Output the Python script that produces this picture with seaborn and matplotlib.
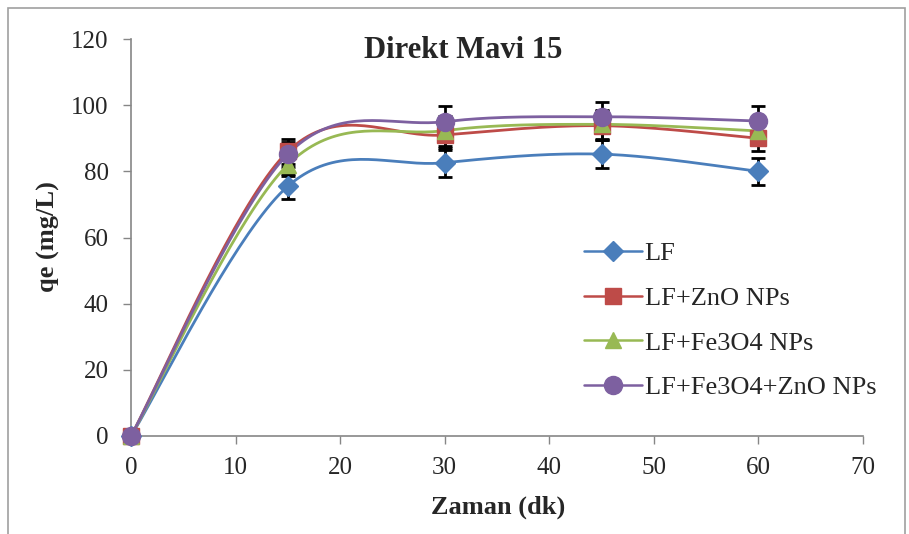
import numpy as np
import pandas as pd
import matplotlib
matplotlib.use("Agg")
import matplotlib.pyplot as plt
import seaborn as sns
from matplotlib.patches import Rectangle
from matplotlib.lines import Line2D

time_min = [0, 15, 30, 45, 60]
series_names = ["LF", "LF+ZnO NPs", "LF+Fe3O4 NPs", "LF+Fe3O4+ZnO NPs"]
qe_lf = [0, 75.5, 82.6, 85.2, 80.0]
qe_zno = [0, 86.0, 91.0, 93.8, 90.0]
qe_fe3o4 = [0, 82.0, 92.3, 94.2, 92.2]
qe_fe3o4_zno = [0, 85.2, 95.0, 96.5, 95.2]
err_lf = [0, 3.8, 4.4, 4.2, 4.0]
err_zno = [0, 3.8, 4.5, 4.3, 4.0]
err_fe3o4 = [0, 3.5, 4.5, 4.3, 4.0]
err_fe3o4_zno = [0, 3.8, 4.8, 4.6, 4.5]

colors = ["#4A7EBB", "#BE4B48", "#98B954", "#7D60A0"]
markers = ["D", "s", "^", "o"]
msizes = [10, 11, 11, 13]

sns.set_style("white")
plt.rcParams['font.family'] = ['Liberation Serif', 'DejaVu Serif']


def smooth(x, y, n=40):
    # Bezier smoothing through the points (like Excel smoothed lines)
    x = np.asarray(x, float)
    y = np.asarray(y, float)
    pts = np.column_stack([x, y])
    xs, ys = [], []
    m = len(pts)
    for i in range(m - 1):
        p1 = pts[i]
        p2 = pts[i + 1]
        p0 = pts[i - 1] if i > 0 else p1
        p3 = pts[i + 2] if i + 2 < m else p2
        c1 = p1 + (p2 - p0) / 6.0
        c2 = p2 - (p3 - p1) / 6.0
        t = np.linspace(0, 1, n)[:, None]
        b = ((1 - t) ** 3) * p1 + 3 * ((1 - t) ** 2) * t * c1 + 3 * (1 - t) * t ** 2 * c2 + t ** 3 * p2
        xs.extend(b[:, 0])
        ys.extend(b[:, 1])
    return np.array(xs), np.array(ys)


fig = plt.figure(figsize=(9.09, 5.34), dpi=100)
ax = fig.add_axes([131 / 909, 1 - 436 / 534, (863 - 131) / 909, (436 - 39) / 534])

all_y = [qe_lf, qe_zno, qe_fe3o4, qe_fe3o4_zno]
all_e = [err_lf, err_zno, err_fe3o4, err_fe3o4_zno]

for ys, es in zip(all_y, all_e):
    ax.errorbar(time_min, ys, yerr=es, fmt="none", ecolor="black",
                elinewidth=2, capsize=5, capthick=2, zorder=2)

for name, ys, c, m, ms in zip(series_names, all_y, colors, markers, msizes):
    sx, sy = smooth(time_min, ys)
    sdf = pd.DataFrame({"x": sx, "y": sy})
    sns.lineplot(data=sdf, x="x", y="y", ax=ax, color=c, linewidth=2.0,
                 sort=False, estimator=None, zorder=3)
    ax.plot(time_min, ys, linestyle="none", marker=m, markersize=ms,
            color=c, zorder=4, clip_on=False)

handles = [Line2D([0], [0], color=c, marker=m, markersize=ms, linewidth=1.8)
           for c, m, ms in zip(colors, markers, msizes)]
leg = ax.legend(handles, series_names, loc="upper left",
                bbox_to_anchor=((584 - 131) / 732, (436 - 242) / 397),
                frameon=False, fontsize=19, borderaxespad=0, borderpad=0,
                handlelength=2.2, labelspacing=0.8, handletextpad=0.1)

ax.set_xlim(0, 70)
ax.set_ylim(0, 120)
ax.set_xticks(range(0, 71, 10))
ax.set_yticks(range(0, 121, 20))
ax.tick_params(axis="both", labelsize=18, direction="out", length=6,
               width=1, color="#868686", left=True, bottom=True)
ax.tick_params(axis="y", pad=10)
ax.tick_params(axis="x", pad=9)
for s in ["top", "right"]:
    ax.spines[s].set_visible(False)
for s in ["left", "bottom"]:
    ax.spines[s].set_color("#868686")
    ax.spines[s].set_linewidth(1.2)

ax.set_xlabel("")
ax.set_ylabel("")
fig.text(498 / 909, 1 - 507 / 534, "Zaman (dk)", fontsize=19, fontweight="bold",
         ha="center", va="center")
fig.text(48 / 909, 1 - 237 / 534, "qe (mg/L)", fontsize=19, fontweight="bold",
         ha="center", va="center", rotation=90)
fig.text(463 / 909, 1 - 50 / 534, "Direkt Mavi 15", fontsize=22, fontweight="bold",
         ha="center", va="center")

# chart border
fig.patches.append(Rectangle((8 / 909, -0.01), (905 - 8) / 909, 1 - 8 / 534 + 0.01,
                             transform=fig.transFigure, fill=False,
                             edgecolor="#A0A0A0", linewidth=1.2))

fig.savefig("out.png", dpi=100)
